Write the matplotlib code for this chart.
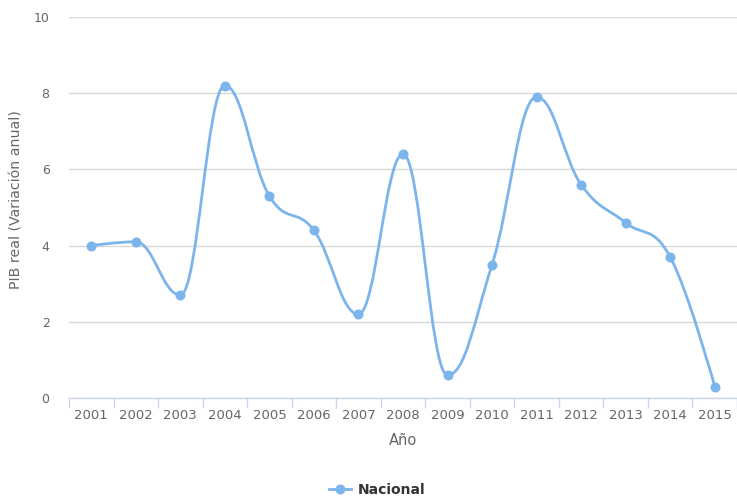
import matplotlib
matplotlib.use("Agg")
import matplotlib.pyplot as plt
from matplotlib.path import Path
from matplotlib.patches import PathPatch
from matplotlib.lines import Line2D
import numpy as np

years = ["2001", "2002", "2003", "2004", "2005", "2006", "2007", "2008",
         "2009", "2010", "2011", "2012", "2013", "2014", "2015"]
nacional = [4.0, 4.1, 2.7, 8.2, 5.3, 4.4, 2.2, 6.4, 0.6, 3.5, 7.9, 5.6, 4.6, 3.7, 0.3]

LINE_COLOR = "#7cb5ec"
TEXT_COLOR = "#666666"


def highcharts_spline(xs, ys):
    """Build bezier control points like Highcharts' spline series."""
    smoothing, denom = 1.5, 2.5
    n = len(xs)
    left = [(xs[i], ys[i]) for i in range(n)]
    right = [(xs[i], ys[i]) for i in range(n)]
    for i in range(1, n - 1):
        px, py = xs[i], ys[i]
        lx, ly = xs[i - 1], ys[i - 1]
        nx, ny = xs[i + 1], ys[i + 1]
        lcx = (smoothing * px + lx) / denom
        lcy = (smoothing * py + ly) / denom
        rcx = (smoothing * px + nx) / denom
        rcy = (smoothing * py + ny) / denom
        if rcx != lcx:
            corr = ((rcy - lcy) * (rcx - px)) / (rcx - lcx) + py - rcy
            lcy += corr
            rcy += corr
        if lcy > ly and lcy > py:
            lcy = max(ly, py)
            rcy = 2 * py - lcy
        elif lcy < ly and lcy < py:
            lcy = min(ly, py)
            rcy = 2 * py - lcy
        if rcy > ny and rcy > py:
            rcy = max(ny, py)
            lcy = 2 * py - rcy
        elif rcy < ny and rcy < py:
            rcy = min(ny, py)
            lcy = 2 * py - rcy
        left[i] = (lcx, lcy)
        right[i] = (rcx, rcy)
    verts = [(xs[0], ys[0])]
    codes = [Path.MOVETO]
    for i in range(1, n):
        verts += [right[i - 1], left[i], (xs[i], ys[i])]
        codes += [Path.CURVE4] * 3
    return Path(verts, codes)


fig = plt.figure(figsize=(7.37, 4.97), dpi=100)
ax = fig.add_axes([69 / 737, (497 - 398) / 497, (737 - 69) / 737, (398 - 17) / 497])

x = np.arange(len(years))
path = highcharts_spline(list(x.astype(float)), nacional)
ax.add_patch(PathPatch(path, facecolor="none", edgecolor=LINE_COLOR, lw=2, zorder=3,
                       capstyle="round", joinstyle="round"))
ax.plot(x, nacional, linestyle="none", marker="o", markersize=7.2,
        color=LINE_COLOR, markeredgewidth=0, zorder=4, clip_on=False)

ax.set_xlim(-0.5, len(years) - 0.5)
ax.set_ylim(0, 10)
ax.set_yticks([0, 2, 4, 6, 8, 10])
ax.set_xticks(x)
ax.set_xticklabels(years)
ax.set_xticks(np.arange(len(years) + 1) - 0.5, minor=True)

for s in ["top", "right", "left"]:
    ax.spines[s].set_visible(False)
ax.spines["bottom"].set_color("#ccd6eb")
ax.spines["bottom"].set_linewidth(1)

ax.grid(axis="y", color="#d8d8d8", linewidth=1)
ax.set_axisbelow(True)

ax.tick_params(axis="x", which="major", length=0, pad=8, labelsize=9.5, labelcolor=TEXT_COLOR)
ax.tick_params(axis="x", which="minor", length=7.2, width=1, color="#ccd6eb")
ax.tick_params(axis="y", length=0, pad=14, labelsize=9, labelcolor=TEXT_COLOR)

ax.set_xlabel("Año", color=TEXT_COLOR, fontsize=10.5, labelpad=8)
ax.set_ylabel("PIB real (Variación anual)", color=TEXT_COLOR, fontsize=10.2)
ax.yaxis.set_label_coords(-0.068, 0.52)

handle = Line2D([], [], color=LINE_COLOR, lw=2, marker="o", markersize=7.2, markeredgewidth=0)
leg = fig.legend([handle], ["Nacional"], loc="lower center", bbox_to_anchor=(0.512, -0.025),
                 frameon=False, prop={"weight": "bold", "size": 10}, handlelength=1.6,
                 handletextpad=0.5)
for t in leg.get_texts():
    t.set_color("#333333")

fig.savefig("out.png", dpi=100)
